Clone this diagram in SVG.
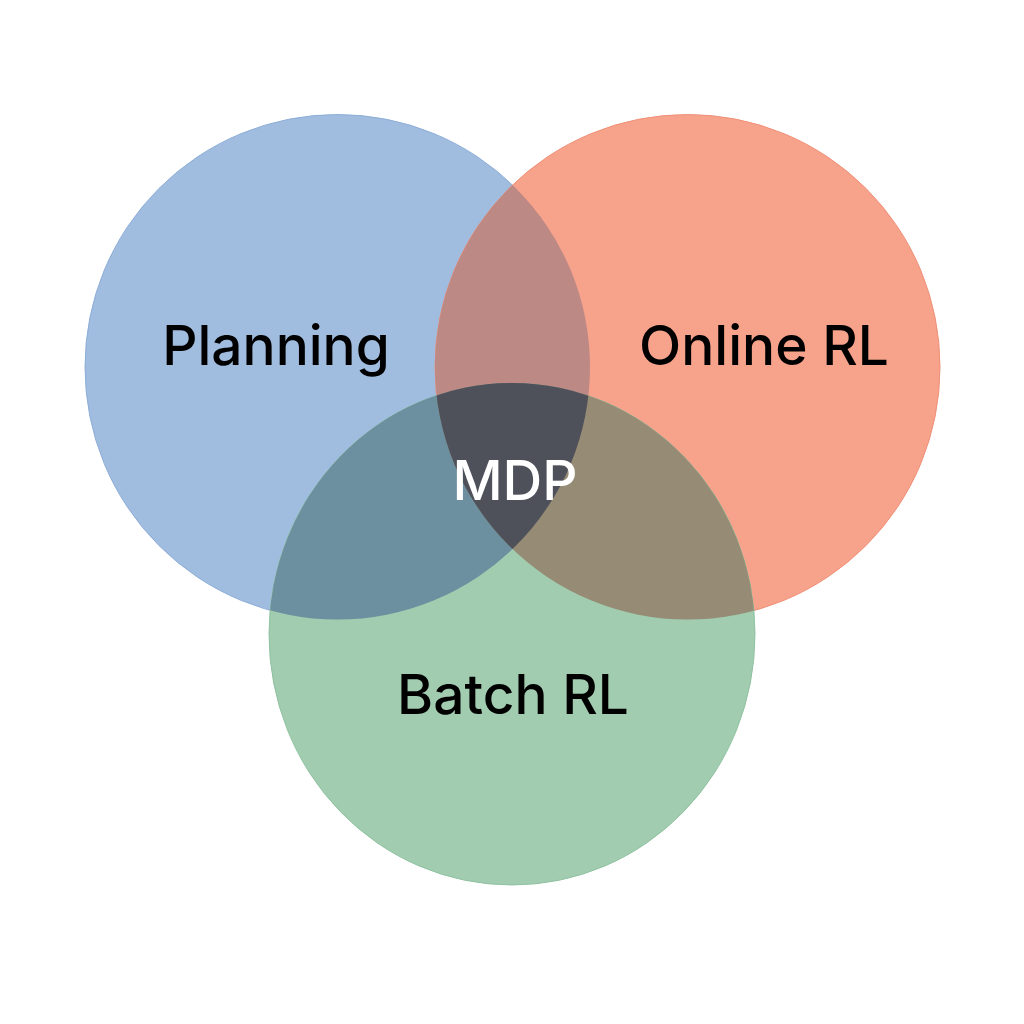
<svg xmlns="http://www.w3.org/2000/svg" width="1024" height="1024" viewBox="0 0 1024 1024">
<style>
.lbl{font-family:Inter,"Open Sans","Liberation Sans",sans-serif;font-size:55px;font-weight:500;text-anchor:middle;fill:#000}
.mdp{fill:#fff}
</style>
<defs>
<clipPath id="cB"><circle cx="337.5" cy="367" r="252.5"/></clipPath>
<clipPath id="cR"><circle cx="687.5" cy="367" r="252.5"/></clipPath>
<clipPath id="cG"><ellipse cx="512" cy="634" rx="243" ry="251"/></clipPath>
</defs>
<rect width="1024" height="1024" fill="#fff"/>
<g id="planning">
<circle cx="337.5" cy="367" r="252.5" fill="#a0bcdf" stroke="#8eaed8" stroke-width="1"/>
</g>
<g id="online-rl">
<circle cx="687.5" cy="367" r="252.5" fill="#f7a28a" stroke="#f09078" stroke-width="1"/>
</g>
<g id="batch-rl">
<ellipse cx="512" cy="634" rx="243" ry="251" fill="#a1ccb0" stroke="#8fc2a1" stroke-width="1"/>
</g>
<g id="overlaps">
<g clip-path="url(#cB)"><circle cx="687.5" cy="367" r="252.5" fill="#bd8985"/></g>
<g clip-path="url(#cB)"><ellipse cx="512" cy="634" rx="243" ry="251" fill="#6c909f"/></g>
<g clip-path="url(#cR)"><ellipse cx="512" cy="634" rx="243" ry="251" fill="#968b74"/></g>
<g clip-path="url(#cB)"><g clip-path="url(#cR)"><ellipse cx="512" cy="634" rx="243" ry="251" fill="#4e505a"/></g></g>
</g>
<g id="labels">
<text class="lbl" x="276" y="365">Planning</text>
<text class="lbl" x="764" y="365">Online RL</text>
<text class="lbl" x="513" y="714">Batch RL</text>
<text class="lbl mdp" x="515" y="500">MDP</text>
</g>
</svg>
